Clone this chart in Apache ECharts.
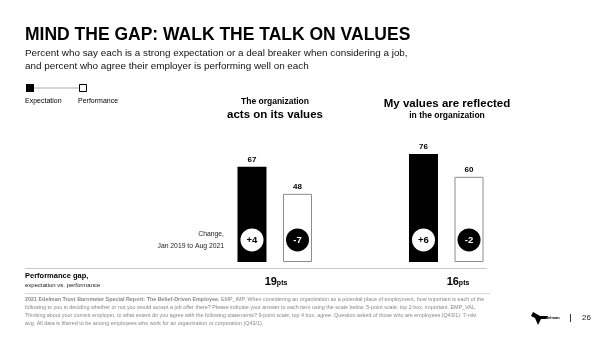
<!DOCTYPE html>
<html>
<head>
<meta charset="utf-8">
<script src="https://cdn.jsdelivr.net/npm/echarts@6/dist/echarts.min.js"></script>
<style>html,body{margin:0;padding:0;background:#fff}#c{width:600px;height:337px}</style>
</head>
<body>
<div id="c"></div>
<script>
var categories = ['The organization acts on its values', 'My values are reflected in the organization'];
var expectation = [67, 76];
var performance = [48, 60];
var changeExpectation = ['+4', '+6'];
var changePerformance = ['-7', '-2'];
var gaps = expectation.map(function (v, i) { return v - performance[i]; });

var F = '"Liberation Sans", Arial, sans-serif';
var chart = echarts.init(document.getElementById('c'), null, { renderer: 'canvas' });

function txt(x, y, text, size, weight, color, align, extra) {
  var o = { type: 'text', x: x, y: y, silent: true,
    style: { text: text, font: (weight || 'normal') + ' ' + size + 'px ' + F, fill: color || '#000',
      align: align || 'left', verticalAlign: 'middle' } };
  if (extra) for (var k in extra) o.style[k] = extra[k];
  return o;
}

var foot = [
  'following to you in deciding whether or not you would accept a job offer there? Please indicate your answer to each item using the scale below. 5-point scale; top 2 box, important. EMP_VAL.',
  'Thinking about your current employer, to what extent do you agree with the following statements? 9-point scale; top 4 box, agree. Question asked of those who are employees (Q43/1). 7-mkt',
  'avg. All data is filtered to be among employees who work for an organization or corporation (Q43/1).'
];

var graphics = [
  txt(25, 35, 'MIND THE GAP: WALK THE TALK ON VALUES', 17.5, 'bold', '#000'),
  txt(25, 53, 'Percent who say each is a strong expectation or a deal breaker when considering a job,', 9.9, 'normal', '#111'),
  txt(25, 66, 'and percent who agree their employer is performing well on each', 9.9, 'normal', '#111'),
  // legend
  { type: 'line', silent: true, shape: { x1: 30, y1: 88, x2: 80, y2: 88 }, style: { stroke: '#aaa', lineWidth: 1 } },
  { type: 'rect', silent: true, shape: { x: 26, y: 84, width: 8, height: 8 }, style: { fill: '#000' } },
  { type: 'rect', silent: true, shape: { x: 79.5, y: 84.5, width: 7, height: 7 }, style: { fill: '#fff', stroke: '#000', lineWidth: 1 } },
  txt(25, 101, 'Expectation', 7, 'normal', '#000'),
  txt(78, 101, 'Performance', 7, 'normal', '#000'),
  // group titles
  txt(275, 102, 'The organization', 8.5, 'bold', '#000', 'center'),
  txt(275, 115, 'acts on its values', 11.5, 'bold', '#000', 'center'),
  txt(447, 104, 'My values are reflected', 11.5, 'bold', '#000', 'center'),
  txt(447, 116, 'in the organization', 8.5, 'bold', '#000', 'center'),
  // change label
  txt(224, 234, 'Change,', 6.8, 'normal', '#222', 'right'),
  txt(224, 246, 'Jan 2019 to Aug 2021', 6.8, 'normal', '#222', 'right'),
  // separator
  { type: 'line', silent: true, shape: { x1: 25, y1: 268.5, x2: 487, y2: 268.5 }, style: { stroke: '#c8c8c8', lineWidth: 1 } },
  txt(25, 276, 'Performance gap,', 7.5, 'bold', '#000'),
  txt(25, 285, 'expectation vs. performance', 6, 'normal', '#222'),
  { type: 'text', x: 276, y: 282, silent: true, style: { text: '{n|' + gaps[0] + '}{p|pts}', align: 'center', verticalAlign: 'middle',
    rich: { n: { font: 'bold 11px ' + F, fill: '#000' }, p: { font: 'bold 7px ' + F, fill: '#000', padding: [3, 0, 0, 0] } } } },
  { type: 'text', x: 458, y: 282, silent: true, style: { text: '{n|' + gaps[1] + '}{p|pts}', align: 'center', verticalAlign: 'middle',
    rich: { n: { font: 'bold 11px ' + F, fill: '#000' }, p: { font: 'bold 7px ' + F, fill: '#000', padding: [3, 0, 0, 0] } } } },
  { type: 'line', silent: true, shape: { x1: 25, y1: 293.5, x2: 490, y2: 293.5 }, style: { stroke: '#d8d8d8', lineWidth: 1 } },
  { type: 'text', x: 25, y: 300, silent: true, style: { text: '{b|2021 Edelman Trust Barometer Special Report: The Belief-Driven Employee.} EMP_IMP. When considering an organization as a potential place of employment, how important is each of the',
    verticalAlign: 'middle', rich: { b: { font: 'bold 5.4px ' + F, fill: '#888' } }, font: '5.4px ' + F, fill: '#888' } },
  // logo
  { type: 'polygon', silent: true, shape: { points: [[533, 312], [540, 316], [548, 316], [546, 319], [541, 319], [538, 325], [535, 318], [531, 316]] }, style: { fill: '#000' } },
  txt(543, 317.5, 'Edelman', 4, 'bold', '#000'),
  { type: 'line', silent: true, shape: { x1: 570.5, y1: 314, x2: 570.5, y2: 322 }, style: { stroke: '#000', lineWidth: 0.8 } },
  txt(582, 318, '26', 8, 'normal', '#222')
];
foot.forEach(function (line, i) { graphics.push(txt(25, 307.7 + i * 7.7, line, 5.4, 'normal', '#888')); });

var option = {
  animation: false,
  backgroundColor: '#fff',
  grid: { left: 189, right: 68, top: 120, bottom: 75 },
  xAxis: { type: 'category', data: categories, show: false },
  yAxis: { type: 'value', min: 0, max: 100, show: false },
  series: [
    { name: 'Expectation', type: 'bar', data: expectation, barWidth: 29, barGap: '57%',
      itemStyle: { color: '#000' },
      label: { show: true, position: 'top', distance: 3, color: '#000', fontSize: 8, fontWeight: 'bold', fontFamily: F },
      markPoint: { symbol: 'circle', symbolSize: 23, silent: true, itemStyle: { color: '#fff' },
        label: { show: true, formatter: '{b}', color: '#000', fontSize: 9.5, fontWeight: 'bold', fontFamily: F },
        data: changeExpectation.map(function (c, i) { return { name: c, coord: [i, 15.5] }; }) } },
    { name: 'Performance', type: 'bar', data: performance, barWidth: 29,
      itemStyle: { color: '#fff', borderColor: '#8c8c8c', borderWidth: 1 },
      label: { show: true, position: 'top', distance: 3, color: '#000', fontSize: 8, fontWeight: 'bold', fontFamily: F },
      markPoint: { symbol: 'circle', symbolSize: 23, silent: true, itemStyle: { color: '#000' },
        label: { show: true, formatter: '{b}', color: '#fff', fontSize: 9.5, fontWeight: 'bold', fontFamily: F },
        data: changePerformance.map(function (c, i) { return { name: c, coord: [i, 15.5] }; }) } }
  ],
  graphic: graphics
};
chart.setOption(option);
</script>
</body>
</html>
